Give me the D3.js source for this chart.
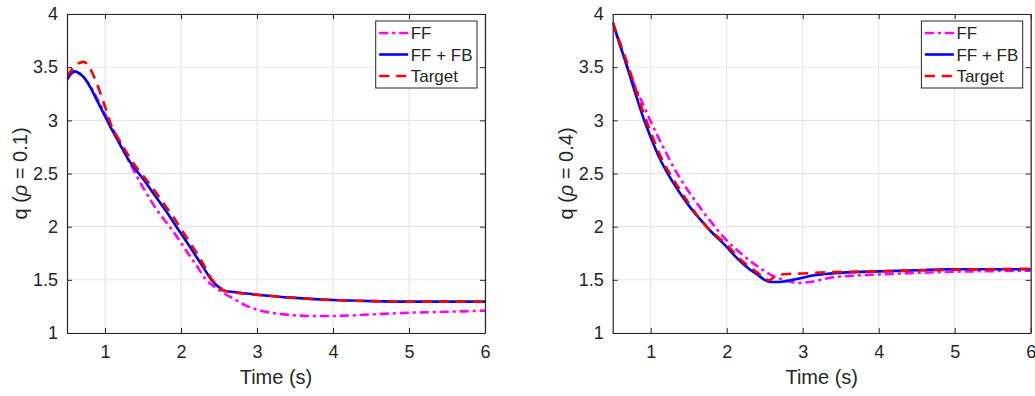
<!DOCTYPE html>
<html><head><meta charset="utf-8">
<script src="https://cdn.jsdelivr.net/npm/d3@7"></script>
<style>body{margin:0;background:#fff}svg{display:block}text{font-family:"Liberation Sans",Arial,sans-serif;fill:#262626}</style>
</head><body><svg id="c" width="1035" height="396"></svg>
<script>
// ---- data ----
const xTicks = [1, 2, 3, 4, 5, 6];
const yTicks = [1, 1.5, 2, 2.5, 3, 3.5, 4];
const seriesNames = ["FF", "FF + FB", "Target"];

// rho = 0.1
const ff1 = [[0.5,3.40],[0.6,3.45],[0.7,3.42],[0.8,3.33],[0.9,3.20],[1.0,3.06],[1.1,2.92],[1.2,2.79],[1.3,2.64],[1.4,2.50],[1.5,2.37],[1.6,2.25],[1.7,2.14],[1.85,2.0],[2.0,1.85],[2.1,1.74],[2.2,1.64],[2.33,1.50],[2.45,1.43],[2.55,1.38],[2.7,1.32],[2.85,1.26],[3.0,1.22],[3.3,1.18],[3.75,1.16],[4.0,1.16],[4.5,1.175],[5.0,1.19],[5.5,1.20],[6.0,1.21]];
const fb1 = [[0.5,3.38],[0.59,3.46],[0.7,3.42],[0.8,3.32],[0.9,3.18],[1.0,3.04],[1.1,2.90],[1.2,2.77],[1.3,2.64],[1.4,2.54],[1.5,2.45],[1.6,2.35],[1.7,2.25],[1.8,2.15],[1.94,2.0],[2.1,1.83],[2.2,1.72],[2.3,1.61],[2.4,1.50],[2.5,1.43],[2.56,1.40],[2.7,1.385],[3.0,1.36],[3.5,1.33],[4.0,1.31],[4.5,1.30],[5.0,1.295],[6.0,1.295]];
const tg1 = [[0.5,3.41],[0.6,3.51],[0.72,3.55],[0.8,3.49],[0.89,3.35],[1.0,3.13],[1.09,2.94],[1.2,2.80],[1.3,2.68],[1.4,2.57],[1.5,2.48],[1.6,2.39],[1.7,2.29],[1.8,2.19],[1.9,2.09],[2.0,1.98],[2.1,1.87],[2.2,1.76],[2.3,1.64],[2.41,1.50],[2.5,1.44],[2.56,1.40],[2.7,1.38],[3.0,1.36],[3.5,1.33],[4.0,1.31],[4.5,1.30],[5.0,1.295],[6.0,1.295]];

// rho = 0.4
const ff2 = [[0.5,3.92],[0.6,3.70],[0.7,3.49],[0.8,3.31],[0.9,3.15],[1.0,2.99],[1.1,2.84],[1.2,2.70],[1.3,2.56],[1.4,2.44],[1.5,2.33],[1.6,2.23],[1.7,2.13],[1.8,2.04],[1.9,1.95],[2.0,1.87],[2.2,1.74],[2.4,1.63],[2.6,1.54],[2.8,1.49],[2.92,1.47],[3.1,1.48],[3.36,1.52],[3.7,1.54],[4.0,1.55],[4.5,1.565],[5.0,1.577],[5.5,1.582],[6.0,1.586]];
const fb2 = [[0.5,3.92],[0.6,3.70],[0.7,3.48],[0.8,3.25],[0.9,3.03],[1.0,2.84],[1.1,2.67],[1.2,2.53],[1.3,2.41],[1.4,2.30],[1.5,2.20],[1.6,2.11],[1.7,2.03],[1.8,1.95],[1.9,1.88],[2.0,1.81],[2.1,1.73],[2.2,1.66],[2.3,1.60],[2.4,1.55],[2.5,1.50],[2.57,1.48],[2.7,1.48],[2.87,1.50],[3.0,1.52],[3.13,1.54],[3.3,1.555],[3.57,1.57],[4.0,1.58],[4.5,1.59],[4.9,1.60],[6.0,1.60]];
const tg2 = [[0.5,3.92],[0.7,3.52],[0.9,3.08],[1.0,2.89],[1.1,2.71],[1.25,2.50],[1.4,2.33],[1.5,2.22],[1.71,2.02],[2.0,1.83],[2.2,1.68],[2.4,1.57],[2.5,1.515],[2.56,1.495],[2.65,1.54],[2.8,1.555],[3.0,1.56],[3.3,1.57],[4.0,1.58],[5.0,1.595],[6.0,1.605]];

const panels = [
  {rho: "0.1", data: [ff1, fb1, tg1], x0: 67, x1: 485},
  {rho: "0.4", data: [ff2, fb2, tg2], x0: 612.7, x1: 1030.7}
];
const colors = ["#ff00ff", "#0000ff", "#ff0000"];
const dashes = ["9,4,3,4", null, "10,7"];
const yTop = 14, yBot = 333;
const svg = d3.select("#c");

panels.forEach(p => {
  const x = d3.scaleLinear().domain([0.5, 6]).range([p.x0, p.x1]);
  const y = d3.scaleLinear().domain([1, 4]).range([yBot, yTop]);
  const g = svg.append("g");
  // grid
  g.selectAll(".gx").data(xTicks).enter().append("line")
    .attr("x1", d => x(d)).attr("x2", d => x(d)).attr("y1", yTop).attr("y2", yBot)
    .attr("stroke", "#e3e3e3").attr("stroke-width", 1);
  g.selectAll(".gy").data(yTicks).enter().append("line")
    .attr("x1", p.x0).attr("x2", p.x1).attr("y1", d => y(d)).attr("y2", d => y(d))
    .attr("stroke", "#e3e3e3").attr("stroke-width", 1);
  // lines
  const clipId = "clip" + p.rho.replace(".", "");
  svg.append("clipPath").attr("id", clipId).append("rect")
    .attr("x", p.x0).attr("y", yTop).attr("width", p.x1 - p.x0).attr("height", yBot - yTop);
  const line = d3.line().x(d => x(d[0])).y(d => y(d[1])).curve(d3.curveMonotoneX);
  p.data.forEach((s, i) => {
    g.append("path").datum(s).attr("d", line).attr("fill", "none")
      .attr("clip-path", `url(#${clipId})`)
      .attr("stroke", colors[i]).attr("stroke-width", 2.6)
      .attr("stroke-dasharray", dashes[i]);
  });
  // axes (ticks inside, box)
  const ax = g.append("g").attr("transform", `translate(0,${yBot})`)
    .call(d3.axisBottom(x).tickValues(xTicks).tickSizeInner(-5).tickSizeOuter(0).tickPadding(12).tickFormat(d3.format("d")));
  const axTop = g.append("g").attr("transform", `translate(0,${yTop})`)
    .call(d3.axisTop(x).tickValues(xTicks).tickSizeInner(-5).tickSizeOuter(0).tickFormat(""));
  const ay = g.append("g").attr("transform", `translate(${p.x0},0)`)
    .call(d3.axisLeft(y).tickValues(yTicks).tickSizeInner(-5).tickSizeOuter(0).tickPadding(9).tickFormat(d => d3.format("")(d)));
  const ayR = g.append("g").attr("transform", `translate(${p.x1},0)`)
    .call(d3.axisRight(y).tickValues(yTicks).tickSizeInner(-5).tickSizeOuter(0).tickFormat(""));
  [ax, axTop, ay, ayR].forEach(a => {
    a.select(".domain").attr("stroke", "#262626").attr("stroke-width", 1.2);
    a.selectAll(".tick line").attr("stroke", "#262626").attr("stroke-width", 1);
    a.selectAll("text").attr("font-family", "Liberation Sans, Arial, sans-serif").attr("font-size", 18).attr("fill", "#262626");
  });
  // axis labels
  g.append("text").attr("x", (p.x0 + p.x1) / 2).attr("y", 384)
    .attr("text-anchor", "middle").attr("font-size", 20).text("Time (s)");
  const yl = g.append("text")
    .attr("transform", `translate(${p.x0 - 40},${(yTop + yBot) / 2}) rotate(-90)`)
    .attr("text-anchor", "middle").attr("font-size", 20);
  yl.append("tspan").text("q (");
  yl.append("tspan").attr("font-style", "italic").text("ρ");
  yl.append("tspan").text(" = " + p.rho + ")");
  // legend
  const lx1 = p.x1 - 8, lx0 = lx1 - 101.3, ly0 = 21, ly1 = 88;
  const lg = g.append("g");
  lg.append("rect").attr("x", lx0).attr("y", ly0).attr("width", lx1 - lx0).attr("height", ly1 - ly0)
    .attr("fill", "#fff").attr("stroke", "#262626").attr("stroke-width", 1);
  const rowY = [33, 54.5, 76];
  seriesNames.forEach((n, i) => {
    lg.append("line").attr("x1", lx0 + 3.5).attr("x2", lx0 + 32.5).attr("y1", rowY[i]).attr("y2", rowY[i])
      .attr("stroke", colors[i]).attr("stroke-width", 2.6).attr("stroke-dasharray", dashes[i]);
    lg.append("text").attr("x", lx0 + 35).attr("y", rowY[i] + 6).attr("font-size", 17).text(n);
  });
});
</script></body></html>
